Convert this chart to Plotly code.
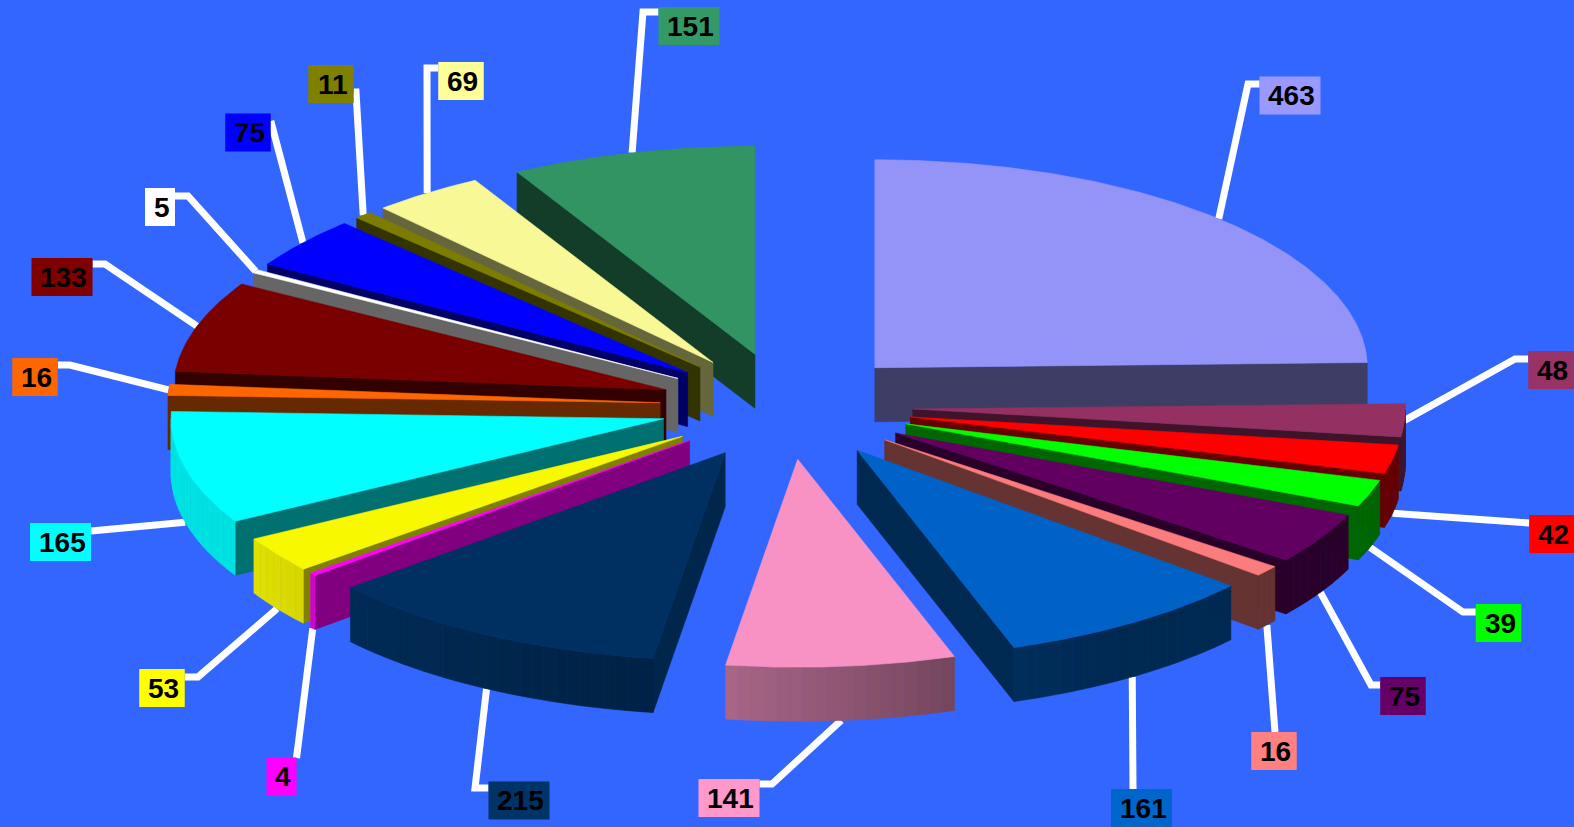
import numpy as np
import plotly.graph_objects as go

# --- data -------------------------------------------------------------
VALUES = [463, 48, 42, 39, 75, 16, 161, 141, 215, 4, 53, 165, 16, 133, 5, 75, 11, 69, 151]
COLORS = ["#9999FF", "#993366", "#FF0000", "#00FF00", "#660066", "#FF8080", "#0066CC",
          "#FF99CC", "#003366", "#FF00FF", "#FFFF00", "#00FFFF", "#FF6600", "#800000",
          "#FFFFFF", "#0000FF", "#808000", "#FFFF99", "#339966"]
FACE_COLORS = ["#9494F8", "#943162", "#FF0000", "#00FF00", "#620062", "#FA7C7C", "#0062C6",
               "#F892C4", "#003062", "#FF00FF", "#F8F800", "#00FFFF", "#FF6600", "#7A0000",
               "#FFFFFF", "#0000FF", "#7C7C00", "#F8F896", "#319462"]

# --- label placement --------------------------------------------------
LABEL_X = [1290, 1551, 1552, 1498.5, 1403, 1274, 1141.5, 729, 519, 281.5, 162, 60.5, 35, 62, 160, 248, 331, 461, 689]
LABEL_Y = [95.5, 370, 534, 623, 696, 751, 808, 798, 800.5, 776.5, 688, 542, 377, 277, 207, 132.5, 84, 81, 26]
ELBOW_X = [1248, 1515, 1515, 1463, 1371, 1275, 1133, 772, 475, 297, 198, 104, 70, 105, 188, 272, 356, 427, 643]
ELBOW_Y = [84, 359, 523, 612, 685, 732, 789, 784, 788, 758, 677, 531, 365, 264, 196, 121, 92, 68, 12]

# --- pie projection ---------------------------------------------------
CX, CY = 786.5, 406.0
RX, RY = 492.5, 208.0
EXPLODE = 0.257
DEPTH = 54.0
BG = "#3366FF"
BOX_H = 38.0
FONT_PX = 28


def shade(hex_color, f):
    r, g, b = (int(hex_color[i:i + 2], 16) for i in (1, 3, 5))
    return f"rgb({round(r * f)},{round(g * f)},{round(b * f)})"


def rim_factor(t):
    return float(np.interp(t, [90, 150, 161, 188, 215, 240, 270], [.40, .40, .45, .66, .78, .88, .90]))


def cut_factor(t):
    if t <= 180:
        return 0.40
    return float(np.interp(t, [188, 230, 240, 272], [.75, .50, .44, .40]))


total = sum(VALUES)
edges = np.concatenate([[0], np.cumsum(VALUES)]) / total * 360.0


def pt(ax, ay, t):
    r = np.radians(t)
    return ax + RX * np.sin(r), ay - RY * np.cos(r)


def box_w(v):
    return 15.5 * len(str(v)) + 14.5


fig = go.Figure()


def poly(xs, ys, color):
    fig.add_trace(go.Scatter(x=list(xs), y=list(ys), mode="lines", fill="toself", fillcolor=color,
                             line=dict(color=color, width=0.6), hoverinfo="skip", showlegend=False))


# leader lines first: they sit underneath the slices
apexes = []
for i, v in enumerate(VALUES):
    t0, t1 = edges[i], edges[i + 1]
    mid = (t0 + t1) / 2
    r = np.radians(mid)
    ax = CX + EXPLODE * RX * np.sin(r)
    ay = CY - EXPLODE * RY * np.cos(r)
    apexes.append((ax, ay))
    sx, sy = pt(ax, ay, mid)
    if -np.cos(r) > 0.1:
        sy += DEPTH
    w = box_w(v)
    lx, ly = LABEL_X[i], LABEL_Y[i]
    ex, ey = ELBOW_X[i], ELBOW_Y[i]
    xs, ys = [sx, ex], [sy, ey]
    if ex < lx - w / 2:
        xs.append(lx - w / 2); ys.append(ey)
    elif ex > lx + w / 2:
        xs.append(lx + w / 2); ys.append(ey)
    fig.add_trace(go.Scatter(x=xs, y=ys, mode="lines", line=dict(color="white", width=7),
                             hoverinfo="skip", showlegend=False))

# slices, painted from the back of the pie to the front
order = sorted(range(len(VALUES)), key=lambda k: -abs((edges[k] + edges[k + 1]) / 2 - 180))
for i in order:
    t0, t1 = edges[i], edges[i + 1]
    ax, ay = apexes[i]
    col = COLORS[i]
    # radial cut walls
    for t, vis in ((t0, np.sin(np.radians(t0)) < 0), (t1, np.sin(np.radians(t1)) > 0)):
        if vis:
            x, y = pt(ax, ay, t)
            poly([ax, x, x, ax, ax], [ay, y, y + DEPTH, ay + DEPTH, ay], shade(col, cut_factor(t)))
    # outer rim, in narrow bands so the shading can vary
    a, b = max(t0, 90.0), min(t1, 270.0)
    if b > a:
        n = max(1, int(np.ceil((b - a) / 1.5)))
        steps = np.linspace(a, b, n + 1)
        for u, w_ in zip(steps[:-1], steps[1:]):
            ts = np.linspace(u, w_, 4)
            x, y = pt(ax, ay, ts)
            poly(np.r_[x, x[::-1], x[0]], np.r_[y, y[::-1] + DEPTH, y[0]], shade(col, rim_factor((u + w_) / 2)))
    # top face
    ts = np.linspace(t0, t1, max(3, int((t1 - t0) * 2) + 1))
    x, y = pt(ax, ay, ts)
    poly(np.r_[ax, x, ax], np.r_[ay, y, ay], FACE_COLORS[i])

for i, v in enumerate(VALUES):
    w = box_w(v)
    fig.add_shape(type="rect", xref="x", yref="y", x0=LABEL_X[i] - w / 2, x1=LABEL_X[i] + w / 2,
                  y0=LABEL_Y[i] - BOX_H / 2, y1=LABEL_Y[i] + BOX_H / 2,
                  fillcolor=COLORS[i], line=dict(width=0), layer="above")
    fig.add_annotation(x=LABEL_X[i], y=LABEL_Y[i], xref="x", yref="y", text=str(v), showarrow=False,
                       xshift=1.5, xanchor="center", yanchor="middle",
                       font=dict(family="Liberation Sans", size=FONT_PX, color="black", weight="bold"))

fig.update_layout(width=1574, height=827, margin=dict(l=0, r=0, t=0, b=0), paper_bgcolor=BG, plot_bgcolor=BG,
                  showlegend=False,
                  xaxis=dict(range=[0, 1574], visible=False, fixedrange=True),
                  yaxis=dict(range=[827, 0], visible=False, fixedrange=True))
fig.write_html("out.html", post_script="document.body.style.margin='0';document.body.style.background='%s';document.documentElement.style.overflow='hidden';" % BG,
               config={"displayModeBar": False})
